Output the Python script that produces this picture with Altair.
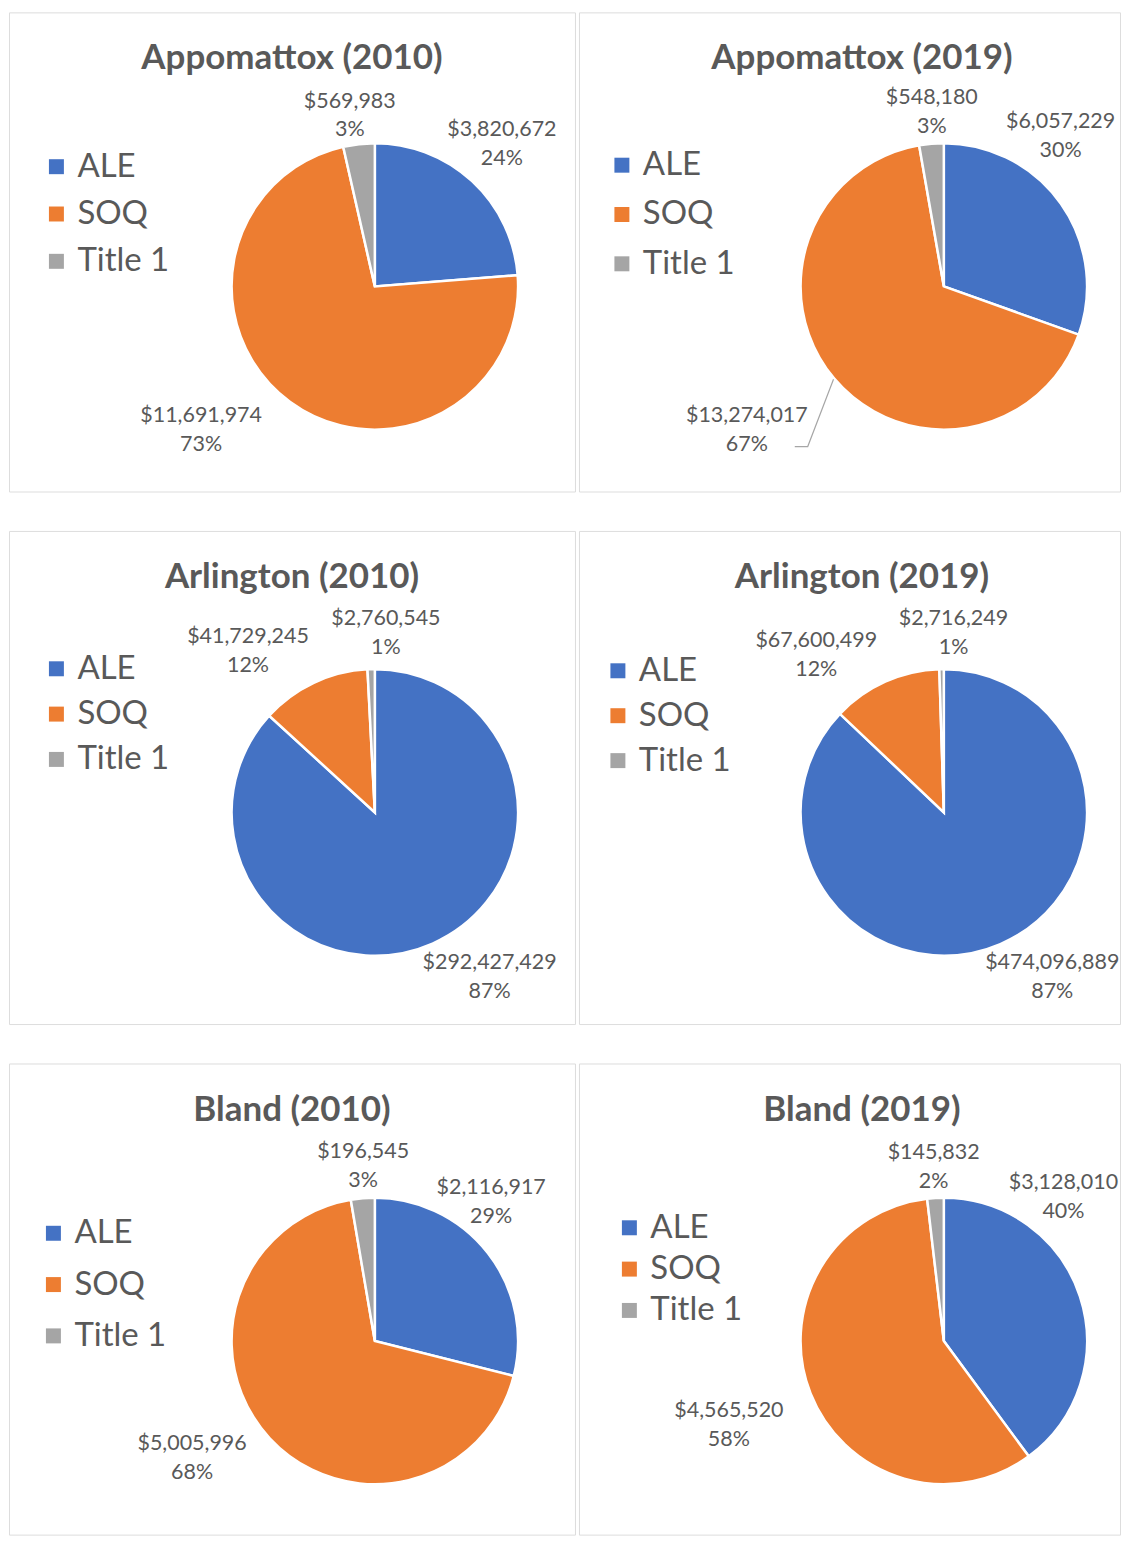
import math
import altair as alt
import pandas as pd

# ---------------- data ----------------
PANELS = ["Appomattox (2010)", "Appomattox (2019)",
          "Arlington (2010)", "Arlington (2019)",
          "Bland (2010)", "Bland (2019)"]
CATEGORIES = ["ALE", "SOQ", "Title 1"]
ALE = [3820672, 6057229, 292427429, 474096889, 2116917, 3128010]
SOQ = [11691974, 13274017, 41729245, 67600499, 5005996, 4565520]
TITLE1 = [569983, 548180, 2760545, 2716249, 196545, 145832]
ALE_PCT = [24, 30, 87, 87, 29, 40]
SOQ_PCT = [73, 67, 12, 12, 68, 58]
TITLE1_PCT = [3, 3, 1, 1, 3, 2]

# ---------------- styles / layout ----------------
COLORS = ["#4472C4", "#ED7D31", "#A5A5A5"]
TEXT = "#595959"
FONT = "Lato"
PANEL_W = [567, 542]
ROW_H = [480, 494, 472]
TITLE_Y = [57, 57, 58]
R = 143.5
PIE_CENTER = [(366.5, 274.5), (365.5, 274.5), (366.5, 282), (365.5, 282), (366.5, 278), (365.5, 278)]
# legend: x, y, row padding
LEGEND_POS = [(31, 138.1, 13.4), (26.5, 136.6, 15.4), (31, 121.6, 11.4),
              (22.5, 123.6, 11.0), (28, 153.6, 17.4), (34, 148.1, 7.4)]
LABEL_FS = 21.5
LABEL_LH = 29
GAP = 4
HH = 26
# best-fit style label adjustments (degrees, pixels) for ALE, SOQ, Title 1
LABEL_NUDGE = [
    [(-1, -13), (14, 21), (-2, -6)],
    [(-17, -17), (4, 33), (1, -3)],
    [(-11, 3), (-13, 8), (5, 5)],
    [(-10, 0), (-15, 6), (4, 5)],
    [(-12, -26), (10, 12), (1, -2)],
    [(-32, -21), (0, 23), (0, -2)],
]
LEADER = {(1, 1)}  # panel, category index with a leader line
LEADER_COLOR = "#A6A6A6"


def text_w(s, fs):
    return sum(0.25 if ch == "," else 0.58 for ch in s) * fs


def panel(i):
    vals = [ALE[i], SOQ[i], TITLE1[i]]
    pcts = [ALE_PCT[i], SOQ_PCT[i], TITLE1_PCT[i]]
    total = float(sum(vals))
    cx, cy = PIE_CENTER[i]
    rows, leaders = [], []
    cum = 0.0
    for k, cat in enumerate(CATEGORIES):
        start = cum / total
        cum += vals[k]
        end = cum / total
        mid = (start + end) / 2
        first = "${:,}".format(vals[k])
        th = 2 * math.pi * mid
        hw = text_w(first, LABEL_FS) / 2
        lr = R + GAP + hw * abs(math.sin(th)) + HH * abs(math.cos(th))
        dth, dr = LABEL_NUDGE[i][k]
        lt = mid + dth / 360.0
        lr = lr + dr
        rows.append(dict(cat=cat, start=start, end=end, lt=lt, lr=lr,
                         label=first + "\n" + "{}%".format(pcts[k])))
        if (i, k) in LEADER:
            a = 2 * math.pi * lt
            lxc = cx + lr * math.sin(a)
            lyc = cy - lr * math.cos(a)
            leaders += [
                dict(n=0, px=cx + (R + 1) * math.sin(th), py=cy - (R + 1) * math.cos(th)),
                dict(n=1, px=lxc + 61, py=lyc + 16.5),
                dict(n=2, px=lxc + 48, py=lyc + 16.5),
            ]
    df = pd.DataFrame(rows)
    lx, ly, rp = LEGEND_POS[i]
    w = PANEL_W[i % 2]
    tscale = alt.Scale(domain=[0, 1])
    color = alt.Color(
        "cat:N",
        scale=alt.Scale(domain=CATEGORIES, range=COLORS),
        legend=alt.Legend(orient="none", legendX=lx, legendY=ly, title=None,
                          symbolType="square", symbolSize=225, symbolStrokeWidth=0,
                          labelFont=FONT, labelFontSize=33, labelColor=TEXT,
                          labelOffset=4.5, rowPadding=rp, padding=0),
    )
    base = alt.Chart(df)
    arcs = base.mark_arc(radius=R, stroke="white", strokeWidth=2.5).encode(
        theta=alt.Theta("start:Q", scale=tscale),
        theta2="end:Q",
        color=color,
        x=alt.value(cx), y=alt.value(cy),
    )
    labels = base.mark_text(font=FONT, fontSize=LABEL_FS, color=TEXT, lineBreak="\n",
                            lineHeight=LABEL_LH, align="center", baseline="middle",
                            dy=-LABEL_LH / 2, clip=True).encode(
        theta=alt.Theta("lt:Q", scale=tscale),
        radius=alt.Radius("lr:Q", scale=None),
        text="label:N",
        x=alt.value(cx), y=alt.value(cy),
    )
    title = alt.Chart(pd.DataFrame({"t": [PANELS[i]]})).mark_text(
        font=FONT, fontWeight="bold", fontSize=35, color=TEXT,
        align="center", baseline="alphabetic").encode(
        text="t:N", x=alt.value(PANEL_W[0] / 2), y=alt.value(TITLE_Y[i // 2]))
    layers = [arcs, labels, title]
    if leaders:
        layers.append(
            alt.Chart(pd.DataFrame(leaders)).mark_line(color=LEADER_COLOR, strokeWidth=1.2).encode(
                x=alt.X("px:Q", scale=None, axis=None),
                y=alt.Y("py:Q", scale=None, axis=None),
                order="n:O",
            )
        )
    return alt.layer(*layers).properties(width=w, height=ROW_H[i // 2])


rows = []
for r in range(3):
    rows.append(alt.hconcat(panel(2 * r), panel(2 * r + 1), spacing=2)
                .resolve_scale(color="independent"))

chart = (alt.vconcat(*rows, spacing=37.5)
         .resolve_scale(color="independent")
         .properties(padding={"left": 0, "top": 2, "right": 0, "bottom": 0})
         .configure_view(stroke="#D9D9D9", strokeWidth=2)
         .configure(background="white"))

chart.save("out.html", embed_options={"renderer": "svg", "actions": False})
